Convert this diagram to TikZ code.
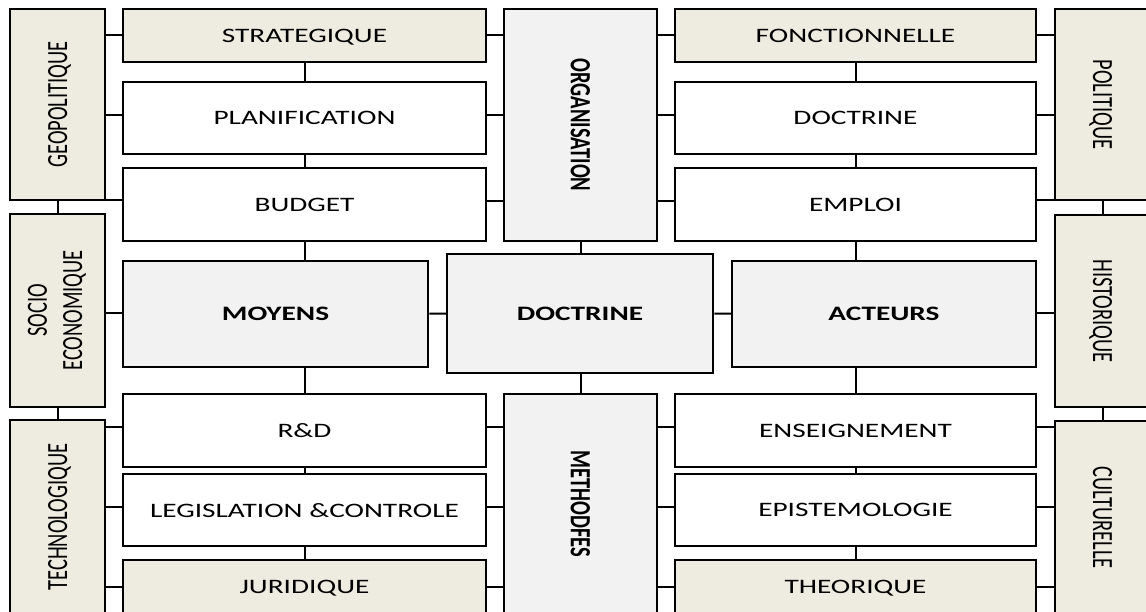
\documentclass[tikz,border=0pt]{standalone}
\usepackage{fontspec}
\setmainfont{Carlito}
\usepackage{graphicx}
\definecolor{beige}{HTML}{EEECE1}
\definecolor{lgrey}{HTML}{F2F2F2}
\newcommand\nodepth[1]{\raisebox{0pt}[\height][0pt]{#1}}
\newcommand\hs[1]{\scalebox{1.43}[1]{\nodepth{#1}}}
\newcommand\vup[1]{\rotatebox{90}{\scalebox{1}[1.43]{\nodepth{#1}}}}
\newcommand\vdn[1]{\rotatebox{-90}{\scalebox{1}[1.43]{\nodepth{#1}}}}
\begin{document}
\begin{tikzpicture}[x=1pt,y=-1pt,
  bx/.style={draw=black, line width=2.5pt, inner sep=0pt, font=\fontsize{20.5}{24.6}\selectfont},
  beigebox/.style={bx, fill=beige},
  greybox/.style={bx, fill=lgrey},
  whitebox/.style={bx, fill=white},
  link/.style={line width=2pt}]
\useasboundingbox (0,0) rectangle (1146,612);
\clip (0,0) rectangle (1146,612);
% left column
\node[beigebox, minimum width=95pt, minimum height=191pt] (geo) at (57.5,104.5) {\vup{GEOPOLITIQUE}};
\node[beigebox, minimum width=95pt, minimum height=193pt] (soc) at (57.5,310.5) {\rotatebox{90}{\scalebox{1}[1.43]{\begin{tabular}{@{}c@{}}SOCIO\\ECONOMIQUE\end{tabular}}}};
\node[beigebox, minimum width=95pt, minimum height=194pt] (tec) at (57.5,517) {\vup{TECHNOLOGIQUE}};
% left boxes
\node[beigebox, minimum width=363pt, minimum height=53pt] (strat) at (304.5,35.5) {\hs{STRATEGIQUE}};
\node[whitebox, minimum width=363pt, minimum height=72pt] (plan) at (304.5,118) {\hs{PLANIFICATION}};
\node[whitebox, minimum width=363pt, minimum height=73pt] (bud) at (304.5,204.5) {\hs{BUDGET}};
\node[greybox, minimum width=305pt, minimum height=106pt] (moy) at (275.5,314) {\hs{\bfseries MOYENS}};
\node[whitebox, minimum width=363pt, minimum height=73pt] (rd) at (304.5,430.5) {\hs{R\&D}};
\node[whitebox, minimum width=363pt, minimum height=72pt] (leg) at (304.5,510) {\hs{LEGISLATION \&CONTROLE}};
\node[beigebox, minimum width=363pt, minimum height=54pt] (jur) at (304.5,587) {\hs{JURIDIQUE}};
% center
\node[greybox, minimum width=153pt, minimum height=232pt] (org) at (580.5,125) {\vdn{\bfseries ORGANISATION}};
\node[greybox, minimum width=266pt, minimum height=119pt] (doc) at (580,313.5) {\hs{\bfseries DOCTRINE}};
\node[greybox, minimum width=153pt, minimum height=220pt] (met) at (580.5,504) {\vdn{\bfseries METHODFES}};
% right boxes
\node[beigebox, minimum width=361pt, minimum height=53pt] (fon) at (855.5,35.5) {\hs{FONCTIONNELLE}};
\node[whitebox, minimum width=361pt, minimum height=72pt] (docr) at (855.5,118) {\hs{DOCTRINE}};
\node[whitebox, minimum width=361pt, minimum height=73pt] (emp) at (855.5,204.5) {\hs{EMPLOI}};
\node[greybox, minimum width=304pt, minimum height=106pt] (act) at (884,314) {\hs{\bfseries ACTEURS}};
\node[whitebox, minimum width=361pt, minimum height=73pt] (ens) at (855.5,430.5) {\hs{ENSEIGNEMENT}};
\node[whitebox, minimum width=361pt, minimum height=72pt] (epi) at (855.5,510) {\hs{EPISTEMOLOGIE}};
\node[beigebox, minimum width=361pt, minimum height=54pt] (the) at (855.5,587) {\hs{THEORIQUE}};
% right column
\node[beigebox, minimum width=95pt, minimum height=191pt] (pol) at (1102.5,104.5) {\vdn{POLITIQUE}};
\node[beigebox, minimum width=95pt, minimum height=192pt] (his) at (1102.5,311) {\vdn{HISTORIQUE}};
\node[beigebox, minimum width=95pt, minimum height=193pt] (cul) at (1102.5,517.5) {\vdn{CULTURELLE}};
% connectors: columns
\draw[link] (geo) -- (soc);
\draw[link] (soc) -- (tec);
\draw[link] (pol) -- (his);
\draw[link] (his) -- (cul);
% left stack
\draw[link] (strat) -- (plan);
\draw[link] (plan) -- (bud);
\draw[link] (bud.south) -- (bud.south |- moy.north);
\draw[link] (rd.north) -- (rd.north |- moy.south);
\draw[link] (rd) -- (leg);
\draw[link] (leg) -- (jur);
% right stack
\draw[link] (fon) -- (docr);
\draw[link] (docr) -- (emp);
\draw[link] (emp.south) -- (emp.south |- act.north);
\draw[link] (ens.north) -- (ens.north |- act.south);
\draw[link] (ens) -- (epi);
\draw[link] (epi) -- (the);
% center
\draw[link] (org.south) -- (org.south |- doc.north);
\draw[link] (met.north) -- (met.north |- doc.south);
\draw[link] (doc) -- (moy);
\draw[link] (doc) -- (act);
% left column to left boxes
\draw[link] (geo.east |- 0,35) -- (strat.west |- 0,35);
\draw[link] (geo.east |- 0,115) -- (plan.west |- 0,115);
\draw[link] (geo.east |- 0,200) -- (bud.west |- 0,200);
\draw[link] (soc.east |- 0,313) -- (moy.west |- 0,313);
\draw[link] (tec.east |- 0,427) -- (rd.west |- 0,427);
\draw[link] (tec.east |- 0,507) -- (leg.west |- 0,507);
\draw[link] (tec.east |- 0,587) -- (jur.west |- 0,587);
% organisation
\draw[link] (org.west |- 0,35) -- (strat.east |- 0,35);
\draw[link] (org.west |- 0,115) -- (plan.east |- 0,115);
\draw[link] (org.west |- 0,201) -- (bud.east |- 0,201);
\draw[link] (org.east |- 0,35) -- (fon.west |- 0,35);
\draw[link] (org.east |- 0,115) -- (docr.west |- 0,115);
\draw[link] (org.east |- 0,201) -- (emp.west |- 0,201);
% methodes
\draw[link] (met.west |- 0,427) -- (rd.east |- 0,427);
\draw[link] (met.west |- 0,507) -- (leg.east |- 0,507);
\draw[link] (met.west |- 0,587) -- (jur.east |- 0,587);
\draw[link] (met.east |- 0,427) -- (ens.west |- 0,427);
\draw[link] (met.east |- 0,507) -- (epi.west |- 0,507);
\draw[link] (met.east |- 0,587) -- (the.west |- 0,587);
% right column to right boxes
\draw[link] (pol.west |- 0,35) -- (fon.east |- 0,35);
\draw[link] (pol.west |- 0,115) -- (docr.east |- 0,115);
\draw[link] (pol.west |- 0,200) -- (emp.east |- 0,200);
\draw[link] (his.west |- 0,313) -- (act.east |- 0,313);
\draw[link] (cul.west |- 0,427) -- (ens.east |- 0,427);
\draw[link] (cul.west |- 0,507) -- (epi.east |- 0,507);
\draw[link] (cul.west |- 0,587) -- (the.east |- 0,587);
\end{tikzpicture}
\end{document}
